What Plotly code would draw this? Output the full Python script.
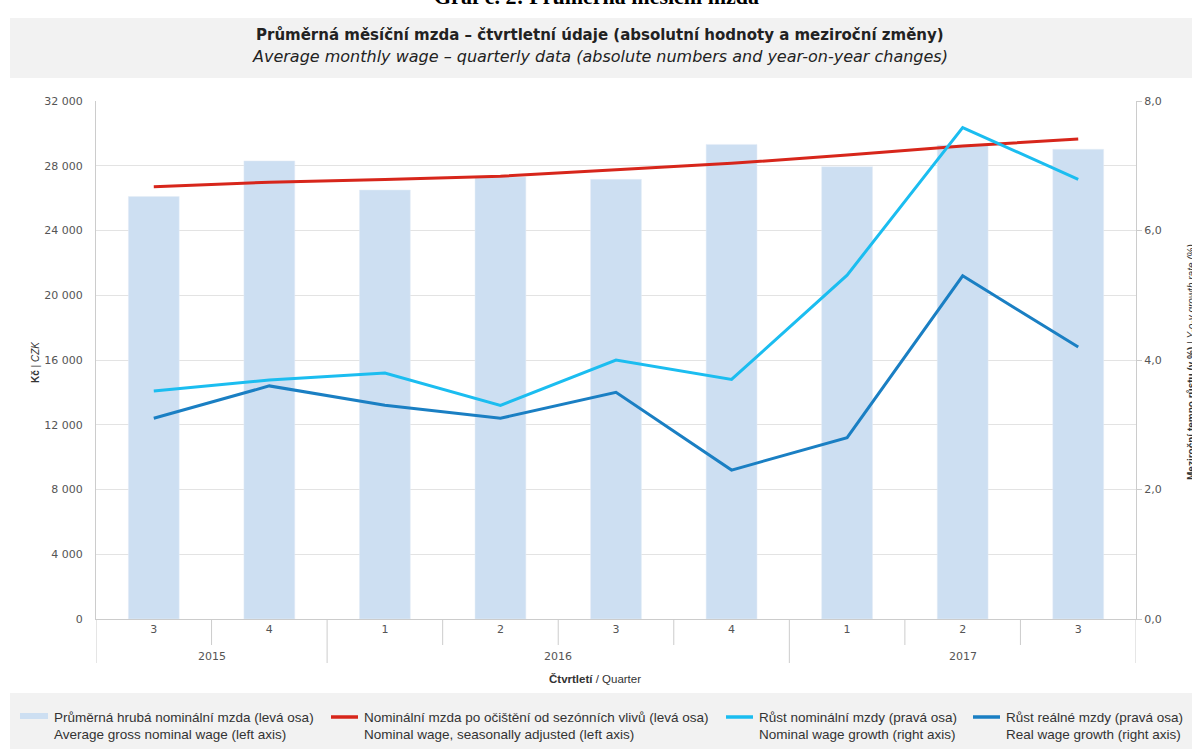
import plotly.graph_objects as go

# ---- data ----
quarters = ["3", "4", "1", "2", "3", "4", "1", "2", "3"]
years = ["2015", "2015", "2016", "2016", "2016", "2016", "2017", "2017", "2017"]
avg_wage = [26100, 28300, 26500, 27300, 27160, 29320, 27940, 29280, 29020]
wage_sa = [26700, 26980, 27150, 27350, 27750, 28150, 28660, 29220, 29650]
nominal_growth = [3.52, 3.69, 3.80, 3.30, 4.00, 3.70, 5.31, 7.59, 6.79]
real_growth = [3.10, 3.60, 3.30, 3.10, 3.50, 2.30, 2.80, 5.30, 4.20]

legend_cz = ["Průměrná hrubá nominální mzda (levá osa)",
             "Nominální mzda po očištění od sezónních vlivů (levá osa)",
             "Růst nominální mzdy (pravá osa)",
             "Růst reálné mzdy (pravá osa)"]
legend_en = ["Average gross nominal wage (left axis)",
             "Nominal wage, seasonally adjusted (left axis)",
             "Nominal wage growth (right axis)",
             "Real wage growth (right axis)"]

# ---- style ----
C_BAR = "#cddff2"
C_RED = "#d7261b"
C_LIGHT = "#1bbdf0"
C_DARK = "#1a7fc3"
FONT = "Liberation Sans, Arial, sans-serif"
TICKFONT = "DejaVu Sans, sans-serif"
W, H = 1192, 749
L, R, T, B = 96, 1136, 101, 619


def px_x(p):
    return (p - L) / (R - L)


def px_y(p):
    return (B - p) / (B - T)


def note(xp, yp, text, size, color="#333333", family=None, xanchor="center", angle=0, xref="paper"):
    f = dict(size=size, color=color)
    if family:
        f["family"] = family
    return dict(x=xp if xref == "x" else px_x(xp), y=px_y(yp), xref=xref, yref="paper",
                text=text, showarrow=False, xanchor=xanchor, yanchor="middle",
                textangle=angle, font=f)


xkeys = [f"{y}-{q}-{i}" for i, (y, q) in enumerate(zip(years, quarters))]

fig = go.Figure()
fig.add_trace(go.Bar(x=xkeys, y=avg_wage, marker_color=C_BAR, width=0.44,
                     name=legend_cz[0], showlegend=False))
fig.add_trace(go.Scatter(x=xkeys, y=wage_sa, mode="lines",
                         line=dict(color=C_RED, width=3), showlegend=False))
fig.add_trace(go.Scatter(x=xkeys, y=nominal_growth, mode="lines", yaxis="y2",
                         line=dict(color=C_LIGHT, width=3), showlegend=False))
fig.add_trace(go.Scatter(x=xkeys, y=real_growth, mode="lines", yaxis="y2",
                         line=dict(color=C_DARK, width=3), showlegend=False))

shapes = []
annotations = []

# title box
shapes.append(dict(type="rect", xref="paper", yref="paper",
                   x0=px_x(10), x1=px_x(1192), y0=px_y(78), y1=px_y(18),
                   fillcolor="#f2f2f2", line_width=0, layer="below"))
# legend box
shapes.append(dict(type="rect", xref="paper", yref="paper",
                   x0=px_x(10), x1=px_x(1192), y0=px_y(749), y1=px_y(693),
                   fillcolor="#f2f2f2", line_width=0, layer="below"))

# category dividers
n = len(xkeys)
for i in range(n + 1):
    pos = i - 0.5
    is_year = i == 0 or i == n or years[i] != years[i - 1]
    shapes.append(dict(type="line", xref="x", yref="paper", x0=pos, x1=pos,
                       y0=0, y1=px_y(663 if is_year else 645),
                       line=dict(color="#cccccc", width=1)))

# year labels
groups = {}
for i, y in enumerate(years):
    groups.setdefault(y, []).append(i)
for y, idx in groups.items():
    annotations.append(note(sum(idx) / len(idx), 656, y, 11, "#555555",
                            family=TICKFONT, xref="x"))

# titles
annotations.append(note(596, -3, "<b>Graf č. 2: Průměrná měsíční mzda</b>", 22, "#000000",
                        family="Liberation Serif, serif"))
annotations.append(note(600, 35,
                        "<b>Průměrná měsíční mzda – čtvrtletní údaje (absolutní hodnoty a meziroční změny)</b>",
                        15, "#222222", family=TICKFONT))
annotations.append(note(600, 56,
                        "<i>Average monthly wage – quarterly data (absolute numbers and year-on-year changes)</i>",
                        16, "#222222", family=TICKFONT))
annotations.append(note(595, 679, "<b>Čtvrtletí</b> / Quarter", 11.5))
annotations.append(note(35, 362, "<b>Kč</b> | <i>CZK</i>", 10, angle=-90))
annotations.append(note(1191, 362,
                        "<b>Meziroční tempo růstu (v %)</b> | <i>Y-o-y growth rate (%)</i>",
                        10, angle=-90))

# legend
leg_x = [20, 331, 726, 973]
leg_colors = [C_BAR, C_RED, C_LIGHT, C_DARK]
for k in range(4):
    x0 = leg_x[k]
    if k == 0:
        shapes.append(dict(type="rect", xref="paper", yref="paper",
                           x0=px_x(x0), x1=px_x(x0 + 28), y0=px_y(719), y1=px_y(713),
                           fillcolor=leg_colors[k], line_width=0))
        tx = x0 + 32
    else:
        shapes.append(dict(type="line", xref="paper", yref="paper",
                           x0=px_x(x0), x1=px_x(x0 + 27), y0=px_y(717), y1=px_y(717),
                           line=dict(color=leg_colors[k], width=3.5)))
        tx = x0 + 31
    annotations.append(note(tx, 717, legend_cz[k], 13.5, xanchor="left"))
    annotations.append(note(tx, 734, legend_en[k], 13.5, xanchor="left"))

fig.update_layout(
    width=W, height=H,
    margin=dict(l=L, r=W - R, t=T, b=H - B, autoexpand=False),
    paper_bgcolor="white", plot_bgcolor="white",
    font=dict(family=FONT, size=11, color="#555555"),
    separators=", ",
    showlegend=False,
    xaxis=dict(type="category", range=[-0.5, n - 0.5], tickmode="array",
               tickvals=xkeys, ticktext=quarters, showgrid=False,
               showline=True, linecolor="#cccccc", ticks="",
               tickfont=dict(size=11, color="#555555", family=TICKFONT)),
    yaxis=dict(range=[0, 32000], dtick=4000, tickformat=",d", showgrid=True,
               gridcolor="#e3e3e3", showline=True, linecolor="#cccccc",
               zeroline=False, ticklabelstandoff=10,
               tickfont=dict(size=11, color="#555555", family=TICKFONT)),
    yaxis2=dict(range=[0, 8], dtick=2, tickformat=".1f", overlaying="y", side="right",
                showgrid=False, showline=True, linecolor="#cccccc", zeroline=False,
                ticks="outside", ticklen=5, tickcolor="#cccccc",
                tickfont=dict(size=11, color="#555555", family=TICKFONT)),
    shapes=shapes,
    annotations=annotations,
)

fig.write_html("out.html")
